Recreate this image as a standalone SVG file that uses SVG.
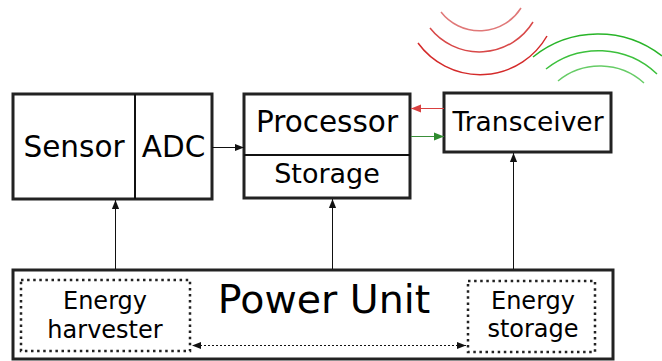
<svg xmlns="http://www.w3.org/2000/svg" width="662" height="361" viewBox="0 0 662 361">
<style>
text{font-family:"DejaVu Sans","Liberation Sans",sans-serif;fill:#000;text-anchor:middle}
.box{fill:#fff;stroke:#222;stroke-width:3}
.div{stroke:#111;stroke-width:2}
.dot{fill:none;stroke:#222;stroke-width:2.5;stroke-dasharray:2.5 3.6}
.con{fill:none;stroke:#111;stroke-width:1}
.wave{fill:none;stroke-width:1.5}
</style>
<defs>
<marker id="ab" viewBox="0 0 10 10" refX="10" refY="5" markerWidth="9" markerHeight="9" markerUnits="userSpaceOnUse" orient="auto"><path d="M0,1 L10,5 L0,9 Z" fill="#111"/></marker>
<marker id="ar" viewBox="0 0 10 10" refX="10" refY="5" markerWidth="10" markerHeight="10" markerUnits="userSpaceOnUse" orient="auto"><path d="M0,1 L10,5 L0,9 Z" fill="#d94040"/></marker>
<marker id="ag" viewBox="0 0 10 10" refX="10" refY="5" markerWidth="10" markerHeight="10" markerUnits="userSpaceOnUse" orient="auto"><path d="M0,1 L10,5 L0,9 Z" fill="#2e8b2e"/></marker>
</defs>
<g id="waves">
<path class="wave" stroke="#d42a2a" d="M418,43 A77,77 0 0 0 547,36"/>
<path class="wave" stroke="#d84848" d="M430,28 A63,63 0 0 0 533,22"/>
<path class="wave" stroke="#e07878" d="M441,12 A49,49 0 0 0 521,8"/>
<path class="wave" stroke="#28b428" d="M533,57 A104,104 0 0 1 662,56"/>
<path class="wave" stroke="#3cc03c" d="M546,69 A85,85 0 0 1 657,74"/>
<path class="wave" stroke="#66cc66" d="M558,81 A66,66 0 0 1 644,83"/>
</g>
<g id="sensor-adc">
<rect class="box" x="13" y="94" width="199" height="105"/>
<line class="div" x1="135" y1="94" x2="135" y2="199"/>
<text x="74" y="157" font-size="29.5">Sensor</text>
<text x="173.5" y="157" font-size="29.5">ADC</text>
</g>
<g id="processor">
<rect class="box" x="244" y="94" width="166" height="104"/>
<line class="div" x1="244" y1="155" x2="410" y2="155"/>
<text x="327" y="132" font-size="29.5">Processor</text>
<text x="327" y="183" font-size="27">Storage</text>
</g>
<g id="transceiver">
<rect class="box" x="444" y="93" width="167" height="59"/>
<text x="528" y="131" font-size="26.5">Transceiver</text>
</g>
<g id="power-unit">
<rect class="box" x="13" y="270" width="600" height="89"/>
<text x="324" y="313" font-size="39.5">Power Unit</text>
</g>
<g id="energy-harvester">
<rect class="dot" x="21" y="280" width="169" height="71"/>
<text x="105" y="309" font-size="24">Energy</text>
<text x="105" y="338" font-size="24">harvester</text>
</g>
<g id="energy-storage">
<rect class="dot" x="468" y="281" width="127" height="71"/>
<text x="533" y="309" font-size="24">Energy</text>
<text x="533" y="337" font-size="24">storage</text>
</g>
<g id="connectors">
<line class="con" x1="212" y1="147.5" x2="244" y2="147.5" marker-end="url(#ab)"/>
<line class="con" style="stroke:#d94040" x1="444" y1="108.5" x2="411" y2="108.5" marker-end="url(#ar)"/>
<line class="con" style="stroke:#3a8f3a" x1="411" y1="136.5" x2="444" y2="136.5" marker-end="url(#ag)"/>
<line class="con" x1="115.5" y1="269" x2="115.5" y2="200" marker-end="url(#ab)"/>
<line class="con" x1="332.5" y1="269" x2="332.5" y2="199" marker-end="url(#ab)"/>
<line class="con" x1="513.5" y1="269" x2="513.5" y2="153" marker-end="url(#ab)"/>
<line class="con" stroke-dasharray="2 2" x1="200" y1="345.5" x2="466" y2="345.5" marker-end="url(#ab)"/>
<path d="M192,345.5 L201,342 L201,349 Z" fill="#111"/>
</g>
</svg>
